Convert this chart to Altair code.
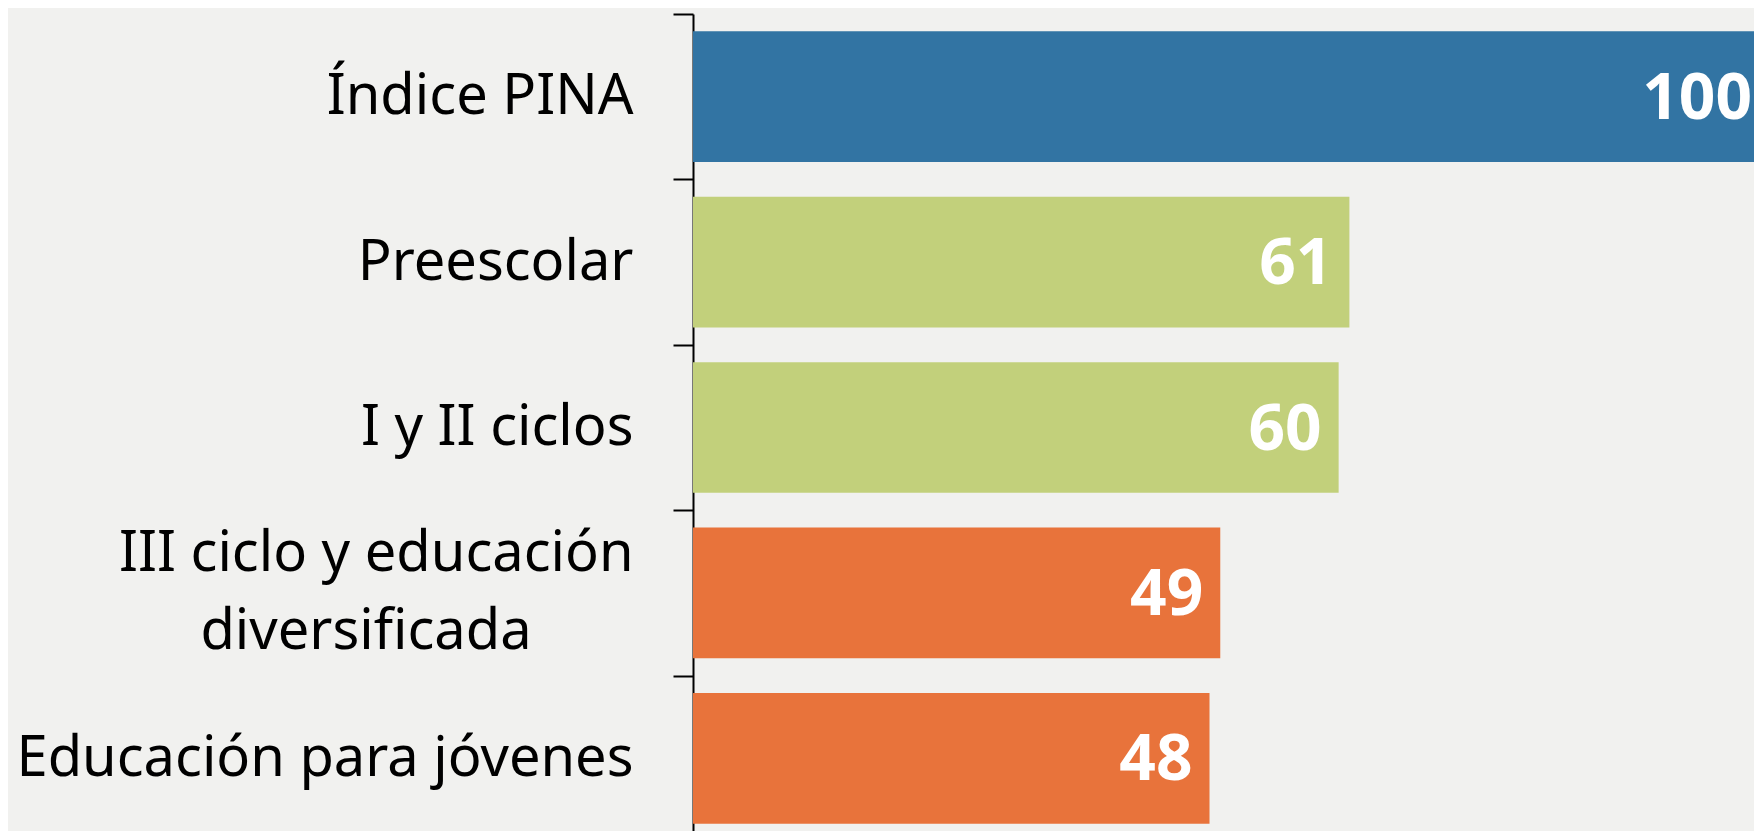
import json
import altair as alt
import pandas as pd

categorias = ["Índice PINA", "Preescolar", "I y II ciclos", "III ciclo y educación diversificada", "Educación para jóvenes"]
etiquetas = [["Índice PINA"], ["Preescolar"], ["I y II ciclos"],
             ["III ciclo y educación", "diversificada" + "\u00a0" * 7 + "\u200b"],
             ["Educación para jóvenes"]]
valores = [100, 61, 60, 49, 48]
grupos = ["indice", "alto", "alto", "bajo", "bajo"]
grupo_dominio = ["indice", "alto", "bajo"]
grupo_colores = ["#3274a3", "#c2d07b", "#e8733b"]

df = pd.DataFrame({"categoria": categorias, "valor": valores, "grupo": grupos})

label_expr = " : ".join(
    [f"datum.value == {json.dumps(c, ensure_ascii=False)} ? {json.dumps(l, ensure_ascii=False)}"
     for c, l in zip(categorias, etiquetas)]
) + " : datum.value"

step = 165.4
y_range = [0, step * 5]
multi = categorias[3]

y_enc = alt.Y(
    "categoria:N",
    sort=categorias,
    title=None,
    scale=alt.Scale(paddingInner=0.21, paddingOuter=0.105, range=y_range),
    axis=alt.Axis(
        labelExpr=label_expr,
        labelFont="Noto Sans",
        labelFontSize=56,
        labelColor="#000000",
        labelLineHeight=78,
        labelPadding=40,
        labelLimit=800,
        tickOffset=-step / 2,
        labelOffset={"condition": {"test": f"datum.value == {json.dumps(multi, ensure_ascii=False)}",
                                   "value": step / 2 - 39},
                     "value": step / 2},
        tickSize=20,
        tickWidth=2,
        tickColor="#000000",
        domainColor="#000000",
        domainWidth=2,
        grid=False,
    ),
)

x_enc = alt.X("valor:Q", scale=alt.Scale(domain=[0, 98.6], nice=False), axis=None)

bars = alt.Chart(df).mark_bar(clip=True).encode(
    x=x_enc,
    y=y_enc,
    color=alt.Color("grupo:N", scale=alt.Scale(domain=grupo_dominio, range=grupo_colores), legend=None),
)

texts = alt.Chart(df).mark_text(
    align="right", baseline="middle", dx=-17, dy=3, font="Noto Sans",
    fontSize=64, fontWeight="bold", color="#ffffff"
).encode(
    x=alt.X("valor:Q"),
    y=alt.Y("categoria:N", sort=categorias),
    text=alt.Text("valor:Q"),
)

chart = (bars + texts).properties(
    width=1061,
    height=817,
    background="#f1f1ef",
    padding={"left": 685, "top": 6, "right": 0, "bottom": 0},
    autosize=alt.AutoSizeParams(type="none"),
).configure_view(stroke=None)

chart.save("out.html", embed_options={"renderer": "svg", "actions": False})
